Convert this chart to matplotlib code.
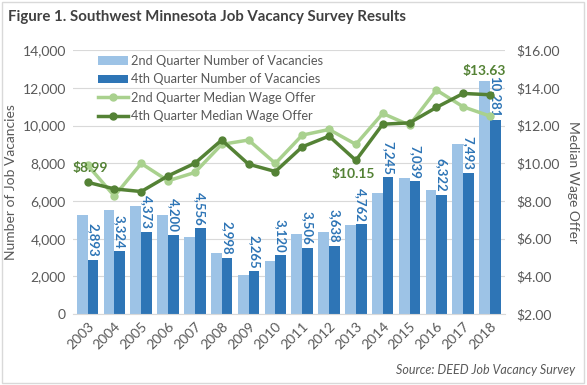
import numpy as np
import matplotlib.pyplot as plt
from matplotlib.ticker import FuncFormatter
from matplotlib.patches import Rectangle

# data
years = [str(y) for y in range(2003, 2019)]
q2_vacancies = [5250, 5510, 5730, 5250, 4080, 3250, 2070, 2810, 4240, 4365,
                4720, 6430, 7210, 6575, 9015, 12370]
q4_vacancies = [2893, 3324, 4373, 4200, 4556, 2998, 2265, 3120, 3506, 3638,
                4762, 7245, 7039, 6322, 7493, 10281]
q2_wage = [9.90, 8.26, 9.99, 9.07, 9.51, 11.00, 11.23, 9.99, 11.49, 11.79,
           11.00, 12.64, 12.02, 13.88, 12.99, 12.50]
q4_wage = [8.99, 8.64, 8.50, 9.33, 10.00, 11.23, 9.95, 9.56, 10.87, 11.44,
           10.15, 12.07, 12.14, 12.96, 13.70, 13.63]

light_blue = '#9DC3E6'
dark_blue = '#2E75B6'
light_green = '#A9D18E'
dark_green = '#548235'
text_gray = '#595959'

plt.rcParams['font.family'] = ['Lato', 'DejaVu Sans']

fig = plt.figure(figsize=(5.87, 3.85), dpi=100)
fig.patches.append(Rectangle((0.003, 0.005), 0.992, 0.99, transform=fig.transFigure,
                             fill=False, edgecolor='#D9D9D9', linewidth=1))
ax = fig.add_axes([0.124, 0.184, 0.736, 0.686])
ax2 = ax.twinx()

x = np.arange(len(years))
w = 0.40
b1 = ax.bar(x - w / 2, q2_vacancies, w, color=light_blue, label='2nd Quarter Number of Vacancies', zorder=2)
b2 = ax.bar(x + w / 2, q4_vacancies, w, color=dark_blue, label='4th Quarter Number of Vacancies', zorder=2)

for xi, v in zip(x, q4_vacancies):
    ax.text(xi + w / 2, v + 150, f'{v:,}', rotation=270, ha='center', va='bottom',
            color=dark_blue, fontsize=9.5, fontweight='bold', zorder=4)

l1, = ax2.plot(x, q2_wage, color=light_green, lw=2.5, marker='o', ms=5,
               label='2nd Quarter Median Wage Offer')
l2, = ax2.plot(x, q4_wage, color=dark_green, lw=2.5, marker='o', ms=5,
               label='4th Quarter Median Wage Offer')

ax2.text(x[0] + 0.1, q4_wage[0] + 0.45, f'${q4_wage[0]:.2f}', color=dark_green,
         ha='center', va='bottom', fontsize=10, fontweight='bold')
ax2.text(x[10] - 0.1, q4_wage[10] - 0.4, f'${q4_wage[10]:.2f}', color=dark_green,
         ha='center', va='top', fontsize=10, fontweight='bold')
ax2.text(x[15] - 0.2, q4_wage[15] + 0.95, f'${q4_wage[15]:.2f}', color=dark_green,
         ha='center', va='bottom', fontsize=10, fontweight='bold')

ax.set_ylim(0, 14000)
ax.set_yticks(range(0, 14001, 2000))
ax.yaxis.set_major_formatter(FuncFormatter(lambda v, p: f'{int(v):,}'))
ax2.set_ylim(2, 16)
ax2.set_yticks(range(2, 17, 2))
ax2.yaxis.set_major_formatter(FuncFormatter(lambda v, p: f'${v:.2f}'))
ax.set_xlim(-0.55, len(years) - 0.45)
ax.set_xticks(x)
ax.set_xticklabels(years, rotation=45, ha='right', rotation_mode='anchor')

ax.grid(axis='y', color='#D9D9D9', lw=0.8, zorder=0)
ax.set_axisbelow(True)
for a in (ax, ax2):
    for s in a.spines.values():
        s.set_visible(False)
    a.tick_params(length=0, labelsize=10, colors=text_gray)
ax.spines['bottom'].set_visible(True)
ax.spines['bottom'].set_color('#D9D9D9')
ax.tick_params(axis='x', pad=4)
ax.tick_params(axis='y', pad=5)
ax2.tick_params(axis='y', pad=8)

ax.set_ylabel('Number of Job Vacancies', color=text_gray, fontsize=10)
ax2.set_ylabel('Median Wage Offer', color=text_gray, fontsize=10, rotation=270, labelpad=14)

ax.set_zorder(ax2.get_zorder() - 1)
ax.patch.set_visible(False)
leg = ax2.legend([b1, b2, l1, l2], [b1.get_label(), b2.get_label(), l1.get_label(), l2.get_label()],
                 loc='upper left', bbox_to_anchor=(0.04, 1.01), frameon=False, fontsize=9.2,
                 labelspacing=0.5, handlelength=2.4, handletextpad=0.2, borderaxespad=0.2)
for t in leg.get_texts():
    t.set_color(text_gray)

fig.text(0.014, 0.955, 'Figure 1. Southwest Minnesota Job Vacancy Survey Results',
         fontsize=10.8, fontweight='bold', color='#404040', va='center')
fig.text(0.98, 0.04, 'Source: DEED Job Vacancy Survey', fontsize=9, style='italic',
         color=text_gray, ha='right', va='center')

fig.savefig('out.png', dpi=100)
